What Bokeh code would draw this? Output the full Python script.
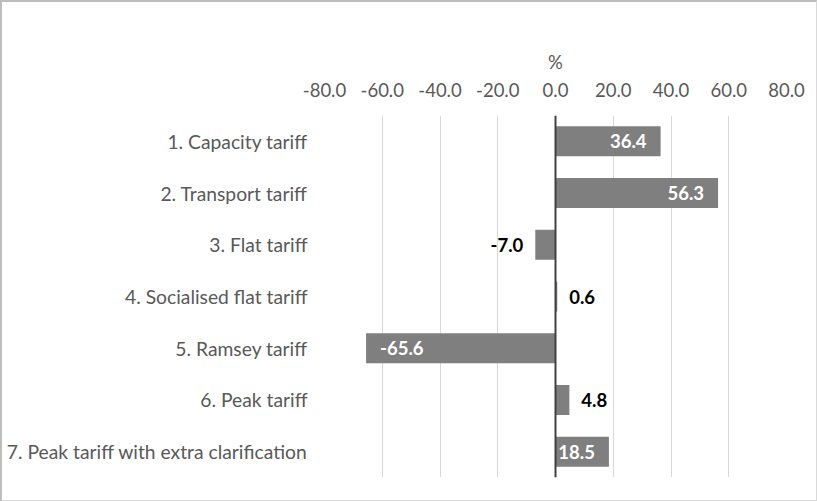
from bokeh.plotting import figure
from bokeh.models import (ColumnDataSource, FactorRange, Range1d, Span,
                          NumeralTickFormatter, FixedTicker, LabelSet)
from bokeh.core.properties import value
from bokeh.embed import file_html
from bokeh.resources import INLINE

# Change per tariff option, in %
categories = [
    "1. Capacity tariff",
    "2. Transport tariff",
    "3. Flat tariff",
    "4. Socialised flat tariff",
    "5. Ramsey tariff",
    "6. Peak tariff",
    "7. Peak tariff with extra clarification",
]
values = [36.4, 56.3, -7.0, 0.6, -65.6, 4.8, 18.5]
x_ticks = [-80, -60, -40, -20, 0, 20, 40, 60, 80]

FONT = "Lato"
GREY_TEXT = "#595959"
BAR = "#7f7f7f"

# labels sit inside the bar end when the bar is long enough, otherwise outside
inside = [abs(v) >= 15 for v in values]
labels = [f"{v:.1f}" for v in values]
pad_in, pad_out = 14, 12
offsets = []
aligns = []
colors = []
for v, ins in zip(values, inside):
    sign = 1 if v >= 0 else -1
    if ins:
        offsets.append(-sign * pad_in)
        aligns.append("right" if v >= 0 else "left")
        colors.append("white")
    else:
        offsets.append(sign * pad_out)
        aligns.append("left" if v >= 0 else "right")
        colors.append("black")

source = ColumnDataSource(dict(
    cat=categories, val=values, label=labels,
    xoff=offsets, align=aligns, color=colors,
))

p = figure(
    width=817, height=501,
    y_range=FactorRange(factors=list(reversed(categories)), range_padding=0),
    x_range=Range1d(-80, 80),
    x_axis_location="above",
    output_backend="svg", toolbar_location=None,
    min_border_left=322, min_border_right=33,
    min_border_top=113, min_border_bottom=26,
)
p.styles = {
    "border-top": "2px solid #bdbdbd",
    "border-left": "2px solid #bdbdbd",
    "border-right": "1px solid #d9d9d9",
    "border-bottom": "1px solid #d9d9d9",
}
p.outline_line_color = None
p.background_fill_color = "white"
p.border_fill_color = "white"

p.hbar(y="cat", right="val", left=0, height=0.58, source=source,
       fill_color=BAR, line_color=None)

p.add_layout(Span(location=0, dimension="height", line_color="#404040",
                  line_width=2))

p.add_layout(LabelSet(
    x="val", y="cat", text="label", x_offset="xoff", source=source,
    text_align="align", text_baseline="middle", text_color="color",
    text_font=value(FONT), text_font_style="bold", text_font_size="18.5px",
))

# axes
xa = p.xaxis[0]
xa.ticker = FixedTicker(ticks=x_ticks)
xa.formatter = NumeralTickFormatter(format="0.0")
xa.axis_label = "%"
xa.axis_label_standoff = 7
xa.axis_label_text_font = FONT
xa.axis_label_text_font_style = "normal"
xa.axis_label_text_font_size = "18.5px"
xa.axis_label_text_color = GREY_TEXT
xa.major_label_text_font = FONT
xa.major_label_text_font_size = "18.5px"
xa.major_label_text_color = GREY_TEXT
xa.major_label_standoff = 19
xa.major_tick_out = 0
xa.major_tick_in = 0
xa.axis_line_color = None
xa.major_tick_line_color = None
xa.minor_tick_line_color = None

ya = p.yaxis[0]
ya.major_label_text_font = FONT
ya.major_label_text_font_size = "19.3px"
ya.major_label_text_color = GREY_TEXT
ya.major_label_standoff = 17
ya.major_tick_out = 0
ya.major_tick_in = 0
ya.axis_line_color = None
ya.major_tick_line_color = None
ya.minor_tick_line_color = None

p.xgrid.ticker = FixedTicker(ticks=x_ticks)
p.xgrid.grid_line_color = "#d9d9d9"
p.xgrid.grid_line_width = 1
p.ygrid.grid_line_color = None

open("out.html", "w").write(file_html(p, INLINE))
